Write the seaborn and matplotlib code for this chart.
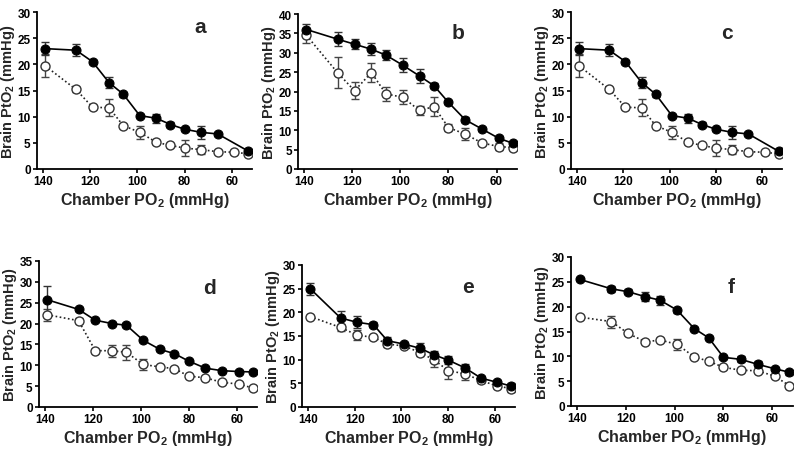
import numpy as np
import pandas as pd
import matplotlib
matplotlib.use("Agg")
import matplotlib.pyplot as plt
import seaborn as sns

sns.set_style("ticks")
plt.rcParams['font.family'] = ['Liberation Sans', 'DejaVu Sans']
plt.rcParams['font.weight'] = 'bold'
plt.rcParams['mathtext.fontset'] = 'custom'
plt.rcParams['mathtext.rm'] = 'Liberation Sans:bold'
plt.rcParams['mathtext.bf'] = 'Liberation Sans:bold'
plt.rcParams['mathtext.default'] = 'bf'

# ---------------- data ----------------
chamber_po2 = [139, 126, 119, 112, 106, 99, 92, 86, 80, 73, 66, 59, 53]
x_ticks = [140, 120, 100, 80, 60]
panel_letters = ["a", "b", "c", "d", "e", "f"]
y_tops = [30, 40, 30, 35, 30, 30]

# panel a
a_filled = [23.0, 22.7, 20.5, 16.5, 14.3, 10.2, 9.7, 8.5, 7.6, 7.0, 6.7, None, 3.4]
a_filled_err = [1.3, 1.1, 0.4, 1.1, 0.5, 0.3, 0.9, 0.4, 0.3, 1.2, 0.3, None, 0.4]
a_open = [19.7, 15.2, 11.8, 11.7, 8.3, 7.0, 5.1, 4.5, 4.0, 3.7, 3.3, 3.2, 2.9]
a_open_err = [2.2, 0.4, 0.3, 1.6, 0.3, 1.2, 0.4, 0.3, 1.5, 0.9, 0.3, 0.3, 0.3]

# panel b
b_filled = [36.0, 33.5, 32.2, 30.9, 29.4, 26.8, 24.0, 21.5, 17.2, 12.7, 10.3, 7.9, 6.6]
b_filled_err = [1.5, 1.8, 1.3, 1.5, 1.2, 1.8, 1.7, 0.7, 0.4, 0.6, 0.5, 0.5, 0.4]
b_open = [34.5, 24.8, 20.2, 24.9, 19.4, 18.5, 15.1, 16.1, 10.7, 9.0, 6.7, 5.8, 5.5]
b_open_err = [2.0, 4.0, 2.2, 2.4, 1.8, 1.8, 1.2, 2.4, 1.0, 1.6, 0.4, 0.8, 0.5]

# panel c
c_filled = [23.0, 22.7, 20.5, 16.5, 14.3, 10.2, 9.7, 8.5, 7.6, 7.0, 6.7, None, 3.4]
c_filled_err = [1.3, 1.1, 0.4, 1.1, 0.5, 0.3, 0.9, 0.4, 0.3, 1.2, 0.3, None, 0.4]
c_open = [19.7, 15.2, 11.8, 11.7, 8.3, 7.0, 5.1, 4.5, 4.0, 3.7, 3.3, 3.2, 2.9]
c_open_err = [2.2, 0.4, 0.3, 1.6, 0.3, 1.2, 0.4, 0.3, 1.5, 0.9, 0.3, 0.3, 0.3]

# panel d
d_filled = [25.7, 23.4, 20.8, 20.0, 19.6, 16.0, 13.8, 12.8, 11.0, 9.3, 8.7, 8.5, 8.4]
d_filled_err = [3.3, 0.5, 0.4, 0.4, 0.5, 0.4, 0.3, 0.3, 0.3, 0.3, 0.3, 0.3, 0.3]
d_open = [22.1, 20.7, 13.5, 13.5, 13.1, 10.2, 9.6, 9.2, 7.4, 7.0, 5.9, 5.5, 4.5]
d_open_err = [1.4, 0.6, 0.5, 1.4, 1.8, 1.3, 0.3, 0.3, 0.3, 0.3, 0.3, 0.3, 0.3]

# panel e
e_filled = [25.0, 18.8, 17.9, 17.4, 14.0, 13.3, 12.4, 11.0, 9.9, 8.3, 6.1, 5.2, 4.4]
e_filled_err = [1.3, 1.5, 1.3, 0.6, 0.8, 0.5, 1.2, 0.8, 0.9, 0.7, 0.4, 0.5, 0.6]
e_open = [19.1, 16.8, 15.2, 14.7, 13.3, 12.9, 11.5, 9.9, 7.7, 7.0, 5.6, 4.4, 3.9]
e_open_err = [0.3, 0.7, 1.0, 0.4, 0.6, 0.5, 0.7, 1.5, 1.8, 1.2, 0.5, 0.3, 0.7]

# panel f
f_filled = [25.5, 23.6, 23.0, 22.0, 21.3, 19.3, 15.6, 13.7, 9.8, 9.4, 8.4, 7.5, 6.8]
f_filled_err = [0.3, 0.6, 0.5, 0.9, 0.9, 0.5, 0.3, 0.3, 0.3, 0.6, 0.6, 0.3, 0.5]
f_open = [17.9, 17.0, 14.6, 12.9, 13.3, 12.4, 9.9, 9.0, 7.8, 7.2, 7.1, 6.0, 4.1]
f_open_err = [0.4, 1.2, 0.4, 0.3, 0.3, 1.1, 0.3, 0.3, 0.3, 0.3, 0.3, 0.3, 0.3]

panels = [
    (a_filled, a_filled_err, a_open, a_open_err),
    (b_filled, b_filled_err, b_open, b_open_err),
    (c_filled, c_filled_err, c_open, c_open_err),
    (d_filled, d_filled_err, d_open, d_open_err),
    (e_filled, e_filled_err, e_open, e_open_err),
    (f_filled, f_filled_err, f_open, f_open_err),
]

# ---------------- layout ----------------
W, H = 800, 452
axes_px = [  # left, right, top, bottom in pixels
    (37, 252, 13, 170),
    (298, 517, 15, 170),
    (571, 782, 13, 170),
    (39, 257, 262, 408),
    (302, 515, 266, 408),
    (571, 793, 258, 407),
]
letter_pos = [(0.76, 0.91), (0.73, 0.88), (0.74, 0.87),
              (0.78, 0.82), (0.78, 0.85), (0.72, 0.80)]

fig = plt.figure(figsize=(W / 100, H / 100), dpi=100)

for i, (fv, fe, ov, oe) in enumerate(panels):
    l, r, t, b = axes_px[i]
    ax = fig.add_axes([l / W, 1 - b / H, (r - l) / W, (b - t) / H])

    df_o = pd.DataFrame({"x": chamber_po2, "y": ov, "e": oe}).dropna()
    df_f = pd.DataFrame({"x": chamber_po2, "y": fv, "e": fe}).dropna()

    # error bars
    ax.errorbar(df_o["x"], df_o["y"], yerr=df_o["e"], fmt="none",
                ecolor="#444444", elinewidth=1.0, capsize=3, capthick=1.0, zorder=2)
    ax.errorbar(df_f["x"], df_f["y"], yerr=df_f["e"], fmt="none",
                ecolor="#333333", elinewidth=1.0, capsize=3, capthick=1.0, zorder=2)

    sns.lineplot(data=df_o, x="x", y="y", ax=ax, color="#222222", lw=1.2,
                 linestyle=(0, (1, 1.5)), marker="o", markersize=6.5,
                 markerfacecolor="white", markeredgecolor="#333333",
                 markeredgewidth=1.0, zorder=3, sort=False)
    sns.lineplot(data=df_f, x="x", y="y", ax=ax, color="black", lw=1.2,
                 marker="o", markersize=6.5, markerfacecolor="black",
                 markeredgecolor="black", zorder=4, sort=False)

    ax.set_xlim(142.5, 51.5)
    ax.set_ylim(0, y_tops[i])
    ax.set_xticks(x_ticks)
    ax.set_yticks(np.arange(0, y_tops[i] + 1, 5))
    for s in ["top", "right"]:
        ax.spines[s].set_visible(False)
    for s in ["left", "bottom"]:
        ax.spines[s].set_linewidth(1.3)
        ax.spines[s].set_color("black")
    ax.tick_params(axis="both", direction="out", length=3, width=1.2,
                   labelsize=8.5, pad=1.5, colors="black")
    for lab in ax.get_xticklabels() + ax.get_yticklabels():
        lab.set_fontweight("bold")
    ax.set_xlabel(r"Chamber PO$_2$ (mmHg)", fontsize=11.5, fontweight="bold", labelpad=2)
    ax.set_ylabel(r"Brain PtO$_2$ (mmHg)", fontsize=10.5, fontweight="bold", labelpad=0.5)
    ax.text(letter_pos[i][0], letter_pos[i][1], panel_letters[i],
            transform=ax.transAxes, fontsize=15, fontweight="bold",
            ha="center", va="center")
    leg = ax.get_legend()
    if leg:
        leg.remove()

fig.savefig("out.png", dpi=100)
